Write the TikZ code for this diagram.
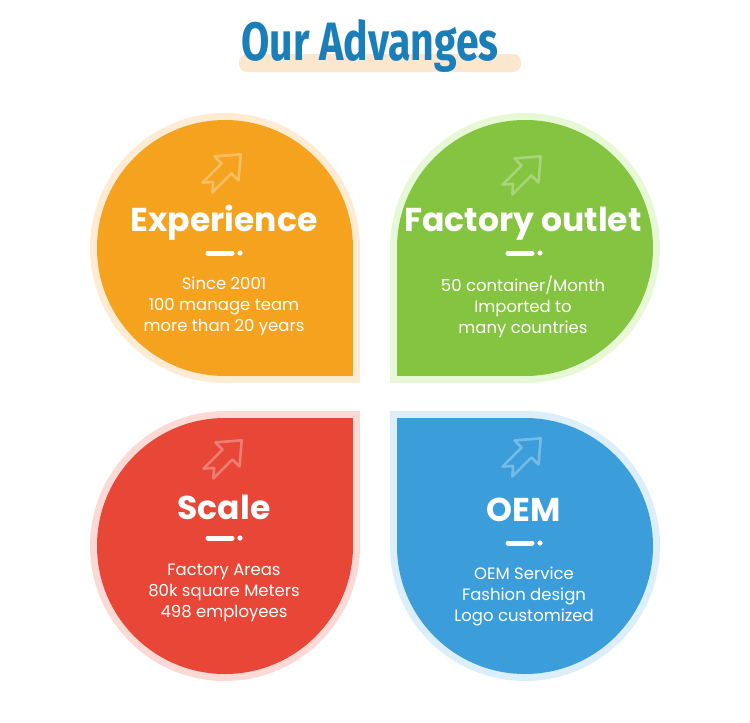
\documentclass[tikz,border=0pt]{standalone}
\usepackage{fontspec}
\usepackage{graphicx}
\usepackage{tikz}
\usetikzlibrary{calc}
\newfontfamily\popfont{Poppins}
\newfontfamily\firafont{Fira Sans}
\definecolor{ttlblue}{HTML}{1A7EB8}
\definecolor{barpeach}{HTML}{FBE6CE}
\definecolor{orgmain}{HTML}{F5A31F}
\definecolor{orgring}{HTML}{FDEBD3}
\definecolor{grnmain}{HTML}{85C440}
\definecolor{grnring}{HTML}{E6F8D6}
\definecolor{redmain}{HTML}{E84637}
\definecolor{redring}{HTML}{FBDAD6}
\definecolor{blumain}{HTML}{3B9EDB}
\definecolor{bluring}{HTML}{DBEEFA}
\tikzstyle{ttl}=[inner sep=0, text=ttlblue, font=\firafont\bfseries\fontsize{54}{54}\selectfont]
\tikzstyle{hd}=[inner sep=0, text=white, font=\popfont\bfseries\fontsize{33}{33}\selectfont]
\tikzstyle{bd}=[inner sep=0, text=white, align=center, font=\popfont\fontsize{16.5}{21}\selectfont]
\tikzstyle{dashln}=[white, line width=5pt, line cap=round]
\tikzstyle{icon}=[draw=white, draw opacity=0.3, line width=2.6pt, line join=round]

\begin{document}
\begin{tikzpicture}[x=1pt,y=-1pt]
\useasboundingbox (0,0) rectangle (750,723);
% title
\fill[barpeach, rounded corners=8pt] (239,54) rectangle (521,72);
\node (title) at (370,60)[anchor=base, ttl] {\scalebox{0.76}[1]{Our Advanges}};
% petals: ring, then fill (circle + one square quarter)
\fill[orgring] (225,248) circle (135); \fill[orgring] (225,248) rectangle (360,383);
\fill[orgmain] (225,248) circle (128); \fill[orgmain] (225,248) rectangle (353,376);
\fill[grnring] (525,248) circle (135); \fill[grnring] (525,248) rectangle (390,383);
\fill[grnmain] (525,248) circle (128); \fill[grnmain] (525,248) rectangle (397,376);
\fill[redring] (225,546) circle (135); \fill[redring] (225,546) rectangle (360,411);
\fill[redmain] (225,546) circle (128); \fill[redmain] (225,546) rectangle (353,418);
\fill[bluring] (525,546) circle (135); \fill[bluring] (525,546) rectangle (390,411);
\fill[blumain] (525,546) circle (128); \fill[blumain] (525,546) rectangle (397,418);
% arrow icons
\foreach \ax/\ay in {223/172, 523/174, 224/458, 523/456}
  \draw[icon, shift={(\ax,\ay)}, rotate=45]
    (25,0) -- (5,17) -- (5,7) -- (-22,7) -- (-14,0) -- (-22,-7) -- (5,-7) -- (5,-17) -- cycle;
% headings
\node (h1) at (224,231)[anchor=base, hd] {Experience};
\node (h2) at (523,231)[anchor=base, hd] {Factory outlet};
\node (h3) at (224,519)[anchor=base, hd] {Scale};
\node (h4) at (524,521)[anchor=base, hd] {OEM};
% dashes
\foreach \dx/\dy in {220/253, 520/253, 220/538, 520/543} {
  \draw[dashln] (\dx-12,\dy) -- (\dx+12,\dy);
  \fill[white] (\dx+20,\dy) circle (2.6);
}
% texts
\node (b1) at (224,306)[bd] {Since 2001\\100 manage team\\more than 20 years};
\node (b2) at (523,307)[bd] {50 container/Month\\Imported to\\many countries};
\node (b3) at (224,593)[bd] {Factory Areas\\80k square Meters\\498 employees};
\node (b4) at (524,596)[bd] {OEM Service\\Fashion design\\Logo customized};
\end{tikzpicture}
\end{document}
